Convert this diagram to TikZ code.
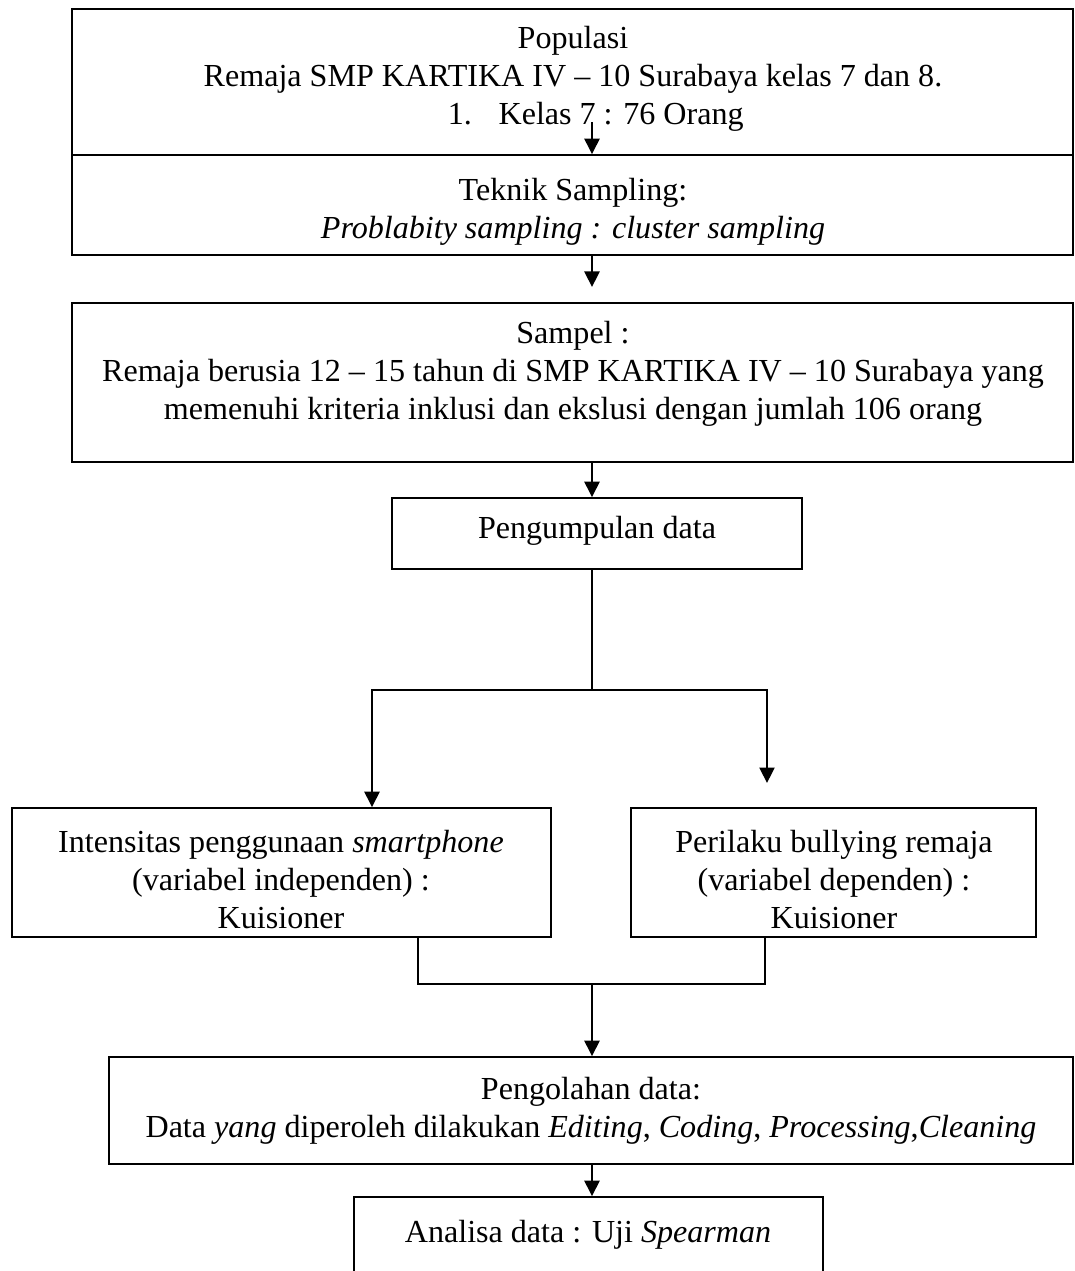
\documentclass[tikz,border=0pt]{standalone}
\usepackage{fontspec}
\setmainfont{Liberation Serif}
\usetikzlibrary{arrows.meta,fit}
\begin{document}
\begin{tikzpicture}[x=0.374pt,y=-0.374pt,
  box/.style={draw,line width=0.6pt,inner sep=0pt,rectangle},
  txt/.style={align=center,inner sep=0pt,font=\fontsize{12pt}{14.2pt}\selectfont},
  conn/.style={line width=0.9pt,line cap=rect,line join=miter},
  arr/.style={conn,-{Triangle[length=5.8pt,width=5.6pt]}}]
\useasboundingbox (0,0) rectangle (1074,1271);

% frames of the flow chart
\node[box,fit={(72,9)(1073,155)}] (pop) {};
\node[box,fit={(72,155)(1073,255)}] (tek) {};
\node[box,fit={(72,303)(1073,462)}] (sam) {};
\node[box,fit={(392,498)(802,569)}] (peng) {};
\node[box,fit={(12,808)(551,937)}] (ind) {};
\node[box,fit={(631,808)(1036,937)}] (dep) {};
\node[box,fit={(109,1057)(1073,1164)}] (olah) {};
\node[box,fit={(354,1197)(823,1300)}] (anal) {};

% texts
\node[txt] (popT) at (573,78.5) {Populasi\\Remaja SMP KARTIKA IV – 10 Surabaya kelas 7 dan 8.\\\hspace*{17pt}1.\hspace{10pt}Kelas 7 : 76 Orang};
\node[txt] (tekT) at (573,211.5) {Teknik Sampling:\\\textit{Problabity sampling : cluster sampling}};
\node[txt] (samT) at (573,374) {Sampel :\\Remaja berusia 12 – 15 tahun di SMP KARTIKA IV – 10 Surabaya yang\\memenuhi kriteria inklusi dan ekslusi dengan jumlah 106 orang};
\node[txt] (pengT) at (597,531) {Pengumpulan data};
\node[txt] (indT) at (281,879.5) {Intensitas penggunaan \textit{smartphone}\\(variabel independen) :\\Kuisioner};
\node[txt] (depT) at (834,879.5) {Perilaku bullying remaja\\(variabel dependen) :\\Kuisioner};
\node[txt] (olahT) at (591,1110.5) {Pengolahan data:\\Data \textit{yang} diperoleh dilakukan \textit{Editing}, \textit{Coding}, \textit{Processing},\textit{Cleaning}};
\node[txt] (analT) at (588,1235) {Analisa data : Uji \textit{Spearman}};

% connectors
\coordinate (a1) at (592,123);
\coordinate (a2) at (592,287);
\coordinate (split) at (592,690);
\coordinate (lx) at (372,0);
\coordinate (rEnd) at (767,783);
\coordinate (jL) at (418,0);
\coordinate (jR) at (765,0);
\coordinate (join) at (592,984);

\draw[arr] (a1) -- (a1 |- tek.north);
\draw[arr] (a1 |- tek.south) -- (a2);
\draw[arr] (a1 |- sam.south) -- (a1 |- peng.north);
\draw[conn] (a1 |- peng.south) -- (split);
\draw[arr] (split) -| (lx |- ind.north);
\draw[arr] (split) -| (rEnd);
\draw[conn] (jL |- ind.south) -- (jL |- join) -- (jR |- join) -- (jR |- dep.south);
\draw[arr] (join) -- (join |- olah.north);
\draw[arr] (a1 |- olah.south) -- (a1 |- anal.north);
\end{tikzpicture}
\end{document}
